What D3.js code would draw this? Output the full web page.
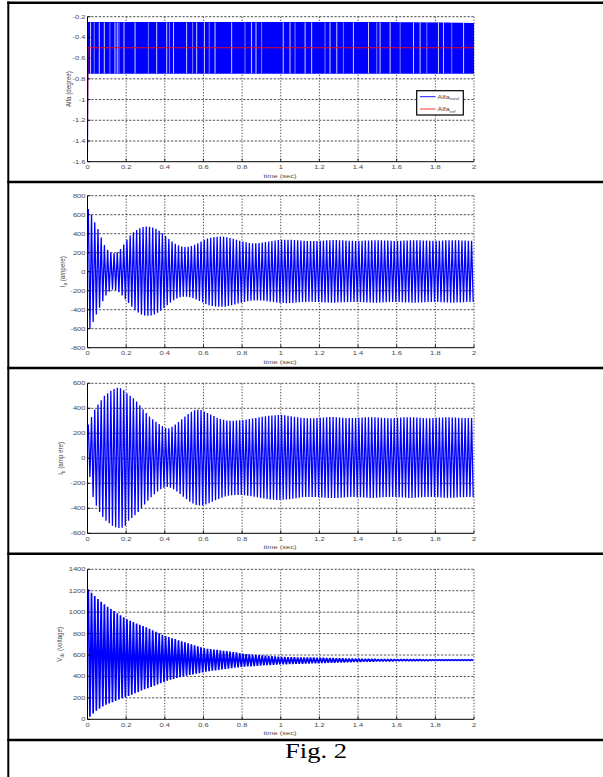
<!DOCTYPE html>
<html><head><meta charset="utf-8">
<script src="https://cdn.jsdelivr.net/npm/d3@7/dist/d3.min.js"></script>
<style>body{margin:0;background:#fff}svg{display:block}</style>
</head><body>
<svg id="c" width="603" height="777"></svg>
<script>
// ---------------- DATA ----------------
const timeTicks = [0,0.2,0.4,0.6,0.8,1,1.2,1.4,1.6,1.8,2];
const timeTickLabels = ["0","0.2","0.4","0.6","0.8","1","1.2","1.4","1.6","1.8","2"];

const alfaTicks = [-0.2,-0.4,-0.6,-0.8,-1,-1.2,-1.4,-1.6];
const alfaTickLabels = ["-0.2","-0.4","-0.6","-0.8","-1","-1.2","-1.4","-1.6"];
const iaTicks = [800,600,400,200,0,-200,-400,-600,-800];
const iaTickLabels = ["800","600","400","200","0","-200","-400","-600","-800"];
const ibTicks = [600,400,200,0,-200,-400,-600];
const ibTickLabels = ["600","400","200","0","-200","-400","-600"];
const vdcTicks = [1400,1200,1000,800,600,400,200,0];
const vdcTickLabels = ["1400","1200","1000","800","600","400","200","0"];

// Alfa_total : dense switching band (envelope) + start transient + visible gaps
const alfaStartTimes = [0, 0.002];
const alfaStartValues = [-1.57, -0.75];
const alfaBandTimes = [0.002, 0.5, 1.0, 1.5, 1.85, 2.0];
const alfaBandTop = [-0.25, -0.25, -0.25, -0.25, -0.255, -0.262];
const alfaBandBottom = [-0.752, -0.752, -0.752, -0.752, -0.752, -0.752];
const alfaGapTimes = [0.016,0.035,0.061,0.087,0.116,0.142,0.154,0.163,0.189,0.246,0.315,0.358,0.410,0.424,0.445,0.513,0.544,0.565,0.605,0.630,0.660,0.746,0.815,0.849,0.872,0.901,1.013,1.048,1.074,1.126,1.160,1.229,1.255,1.290,1.324,1.376,1.454,1.497,1.514,1.566,1.618,1.687,1.721,1.756,1.816,1.842,1.885,1.946];
// Alfa_ref
const alfaRefTimes = [0, 0.002, 2];
const alfaRefValues = [-1.5, -0.5, -0.5];

// oscillating signals: one positive and one negative peak per cycle
const cycleHz = 60;
const iaUpper = [660,600,520,450,360,280,230,205,195,205,240,285,
340,380,415,440,458,470,476,474,466,452,432,405,
375,345,318,295,278,266,260,262,270,283,300,318,
335,348,358,365,369,370,368,363,355,346,336,326,
317,309,303,300,300,302,306,312,318,324,329,333,
336,337,337,336,334,331,328,326,324,323,323,324,
326,328,330,332,333,333,332,330,328,326,325,324,
324,325,327,329,331,332,332,331,329,327,325,324,
324,325,327,329,331,332,332,331,329,327,326,325,
325,326,328,330,331,332,331,330,328,327,326,325];
const iaLower = [-600,-530,-450,-380,-310,-250,-210,-190,-195,-215,-250,-290,
-330,-370,-405,-430,-450,-460,-463,-460,-450,-433,-410,-383,
-353,-325,-300,-282,-270,-264,-263,-268,-278,-292,-308,-325,
-340,-352,-360,-366,-369,-370,-368,-362,-354,-345,-335,-326,
-318,-311,-306,-303,-302,-303,-306,-310,-315,-320,-325,-328,
-330,-331,-330,-328,-325,-322,-320,-318,-317,-317,-318,-320,
-322,-324,-325,-326,-326,-325,-323,-321,-319,-318,-318,-319,
-320,-322,-324,-325,-326,-326,-325,-323,-321,-319,-318,-318,
-319,-321,-323,-325,-326,-326,-325,-323,-321,-319,-318,-318,
-319,-321,-323,-325,-326,-326,-325,-323,-321,-320,-319,-319];
const ibUpper = [270,330,390,430,465,500,520,540,555,565,560,545,
520,500,480,455,425,393,362,335,312,293,275,258,
242,240,252,270,290,312,335,355,372,384,388,386,
375,363,350,338,325,315,308,303,300,300,302,305,
307,310,314,318,323,328,332,336,340,343,345,346,
346,344,340,336,332,328,325,322,320,320,321,323,
325,327,329,330,330,329,327,325,323,322,322,323,
324,326,328,329,329,328,326,324,322,321,321,322,
324,326,328,329,329,328,326,324,322,321,321,322,
324,326,327,328,328,327,326,324,323,322,322,323];
const ibLower = [-150,-310,-380,-430,-470,-500,-520,-540,-552,-558,-555,-540,
-500,-478,-455,-430,-400,-370,-340,-312,-287,-265,-248,-236,
-230,-235,-248,-265,-285,-307,-328,-347,-362,-373,-378,-377,
-370,-360,-348,-336,-325,-315,-306,-300,-296,-294,-293,-294,
-296,-299,-303,-307,-312,-317,-322,-326,-329,-331,-333,-333,
-332,-330,-327,-323,-319,-315,-312,-310,-309,-309,-310,-312,
-314,-316,-317,-318,-318,-317,-315,-313,-311,-310,-310,-311,
-312,-314,-316,-317,-317,-316,-314,-312,-310,-309,-309,-310,
-312,-314,-316,-317,-317,-316,-314,-312,-310,-309,-309,-310,
-312,-314,-315,-316,-316,-315,-314,-312,-311,-310,-310,-311];
const vdcUpper = [1213,1180,1150,1123,1097,1073,1051,1030,1010,990,972,952,
933,920,907,895,883,871,859,845,831,817,803,790,
777,767,757,748,738,728,719,710,700,691,681,672,
663,659,655,651,648,644,640,636,632,628,624,619,
612,609,607,604,601,599,596,594,591,589,587,584,
582,581,580,579,579,578,578,577,577,576,576,575,
575,574,573,572,571,570,569,568,567,566,566,565,
565,564,563,563,562,562,561,561,561,560,560,560,
559,559,559,558,558,558,558,558,557,557,557,557,
557,557,557,556,556,556,556,556,556,556,556,556];
const vdcLower = [24,55,80,102,120,135,148,160,172,185,196,207,
217,230,243,256,268,280,291,302,313,325,337,348,
360,369,377,385,392,399,406,413,419,425,431,437,
444,448,453,457,461,465,469,473,477,481,484,488,
491,493,495,497,499,501,503,505,507,509,511,512,
513,514,515,516,517,518,519,520,521,522,523,524,
525,526,527,528,529,530,531,532,533,534,535,536,
537,538,539,540,540,541,541,542,542,543,543,544,
545,545,545,546,546,546,547,547,547,547,548,548,
548,548,548,549,549,549,549,549,549,549,549,549];

// ---------------- DRAWING ----------------
const svg = d3.select("#c");
const FONT = "'Liberation Sans', Arial, Helvetica, sans-serif";
const SERIF = "'Liberation Serif', 'Times New Roman', Times, serif";
const SX = 1.3;           // the original figure is stretched horizontally
const BLUE = "#0000ff";

// table frame
const frame = svg.append("g");
frame.append("line").attr("x1",8.3).attr("x2",8.3).attr("y1",1.5).attr("y2",777)
  .attr("stroke","#000").attr("stroke-width",2);
[2.8, 182, 368, 553.7, 740].forEach(yy => {
  frame.append("line").attr("x1",7.3).attr("x2",603).attr("y1",yy).attr("y2",yy)
    .attr("stroke","#000").attr("stroke-width",2.4);
});

const x = d3.scaleLinear().domain([0,2]).range([87.5,474]);

function sText(g, str, tx, ty, opts={}) {
  const t = g.append("text")
    .attr("transform", `translate(${tx},${ty}) scale(${SX},1)` + (opts.rot ? ` rotate(${opts.rot})` : ""))
    .style("font-family", FONT).attr("font-size", opts.size || 5.8)
    .attr("fill", opts.fill || "#4a4a4a")
    .attr("text-anchor", opts.anchor || "middle");
  if (opts.dy) t.attr("dy", opts.dy);
  if (Array.isArray(str)) {
    str.forEach(p => {
      const ts = t.append("tspan").text(p.t);
      if (p.sub) ts.attr("font-size", (opts.size||5.8)*0.72).attr("dy", 1.6);
      if (p.after) ts.attr("dy", -1.6);
    });
  } else t.text(str);
  return t;
}

const panels = [
  {top:16.7, bottom:161.7, domain:[-1.6,-0.2], ticks:alfaTicks, labels:alfaTickLabels,
   lx:67.7, label:[{t:"Alfa (degree)"}]},
  {top:195.7, bottom:347.7, domain:[-800,800], ticks:iaTicks, labels:iaTickLabels,
   lx:61.7, label:[{t:"I"},{t:"a",sub:true},{t:" (ampere)",after:true}], up:iaUpper, lo:iaLower, w:1.3},
  {top:383.3, bottom:533.3, domain:[-600,600], ticks:ibTicks, labels:ibTickLabels,
   lx:60.5, label:[{t:"I"},{t:"b",sub:true},{t:" (amp ere)",after:true}], up:ibUpper, lo:ibLower, w:1.3},
  {top:569.3, bottom:719.3, domain:[0,1400], ticks:vdcTicks, labels:vdcTickLabels,
   lx:58.8, label:[{t:"V"},{t:"dc",sub:true},{t:" (voltage)",after:true}], up:vdcUpper, lo:vdcLower, w:1.7}
];

panels.forEach((p, pi) => {
  const g = svg.append("g");
  const y = d3.scaleLinear().domain(p.domain).range([p.bottom, p.top]);

  // grid (dashed)
  const grid = g.append("g").attr("stroke","#000").attr("stroke-width",0.7);
  p.ticks.forEach(v => {
    if (v === p.domain[0]) return;
    grid.append("line").attr("x1",x(0)).attr("x2",x(2)).attr("y1",y(v)).attr("y2",y(v))
      .attr("stroke-dasharray","2.2,1.6");
  });
  timeTicks.forEach(v => {
    if (v === 0) return;
    grid.append("line").attr("x1",x(v)).attr("x2",x(v)).attr("y1",p.top).attr("y2",p.bottom)
      .attr("stroke-dasharray","1.3,1.6");
  });

  // data
  const plot = g.append("g");
  if (pi === 0) {
    const band = alfaBandTimes.map((t,i)=>({t, a:alfaBandTop[i], b:alfaBandBottom[i]}));
    plot.append("path").datum(band)
      .attr("d", d3.area().x(d=>x(d.t)).y0(d=>y(d.b)).y1(d=>y(d.a)))
      .attr("fill", BLUE);
    alfaGapTimes.forEach((t,i) => {
      plot.append("line").attr("x1",x(t)).attr("x2",x(t))
        .attr("y1",y(-0.25)+0.5).attr("y2",y(-0.752)-0.5)
        .attr("stroke","#fff").attr("stroke-width", 0.9).attr("opacity", i%3===1 ? 0.55 : 0.9);
    });
    plot.append("path").datum(alfaStartTimes.map((t,i)=>[t,alfaStartValues[i]]))
      .attr("d", d3.line().x(d=>x(d[0])).y(d=>y(d[1])))
      .attr("fill","none").attr("stroke",BLUE).attr("stroke-width",1);
    plot.append("path").datum(alfaRefTimes.map((t,i)=>[t,alfaRefValues[i]]))
      .attr("d", d3.line().x(d=>x(d[0])).y(d=>y(d[1])))
      .attr("fill","none").attr("stroke","#ff0000").attr("stroke-width",1);
  } else {
    const pts = [];
    p.up.forEach((u,k) => {
      pts.push([(k+0.25)/cycleHz, u]);
      pts.push([(k+0.75)/cycleHz, p.lo[k]]);
    });
    plot.append("path").datum(pts)
      .attr("d", d3.line().x(d=>x(d[0])).y(d=>y(d[1])))
      .attr("fill","none").attr("stroke",BLUE).attr("stroke-width", p.w)
      .attr("stroke-linejoin","bevel");
  }

  // axes (solid left + bottom) with inward ticks
  const ax = g.append("g").attr("stroke","#000");
  ax.append("line").attr("x1",x(0)).attr("x2",x(0)).attr("y1",p.top).attr("y2",p.bottom).attr("stroke-width",1);
  ax.append("line").attr("x1",x(0)).attr("x2",x(2)).attr("y1",p.bottom).attr("y2",p.bottom).attr("stroke-width",1);
  p.ticks.forEach(v => ax.append("line").attr("x1",x(0)).attr("x2",x(0)+3).attr("y1",y(v)).attr("y2",y(v)).attr("stroke-width",0.8));
  timeTicks.forEach(v => ax.append("line").attr("x1",x(v)).attr("x2",x(v)).attr("y1",p.bottom).attr("y2",p.bottom-3).attr("stroke-width",0.8));

  // tick labels
  p.ticks.forEach((v,i) => sText(g, p.labels[i], 85.5, y(v), {anchor:"end", dy:"0.35em"}));
  timeTicks.forEach((v,i) => sText(g, timeTickLabels[i], x(v), p.bottom+7.3, {}));
  sText(g, "time (sec)", 280, p.bottom+15.8, {});
  sText(g, p.label, p.lx, (p.top+p.bottom)/2, {rot:-90, dy:"0.35em", size:6.2});

  if (pi === 0) {
    const lg = g.append("g");
    lg.append("rect").attr("x",416.7).attr("y",90.7).attr("width",46.6).attr("height",24.3)
      .attr("fill","#fff").attr("stroke","#000").attr("stroke-width",1.2);
    lg.append("line").attr("x1",420).attr("x2",435.5).attr("y1",96.7).attr("y2",96.7)
      .attr("stroke",BLUE).attr("stroke-width",0.9);
    lg.append("line").attr("x1",420).attr("x2",435.5).attr("y1",109).attr("y2",109)
      .attr("stroke","#ff7f7f").attr("stroke-width",1.6);
    sText(lg, [{t:"Alfa"},{t:"total",sub:true}], 437.5, 98.8, {anchor:"start", size:5.4});
    sText(lg, [{t:"Alfa"},{t:"ref",sub:true}], 437.5, 111.2, {anchor:"start", size:5.4});
  }
});

// caption
svg.append("text").attr("x",316).attr("y",758.3).attr("text-anchor","middle")
  .style("font-family", SERIF).attr("font-size",21.5)
  .attr("textLength",62).attr("lengthAdjust","spacingAndGlyphs").attr("fill","#000")
  .text("Fig. 2");
</script>
</body></html>
